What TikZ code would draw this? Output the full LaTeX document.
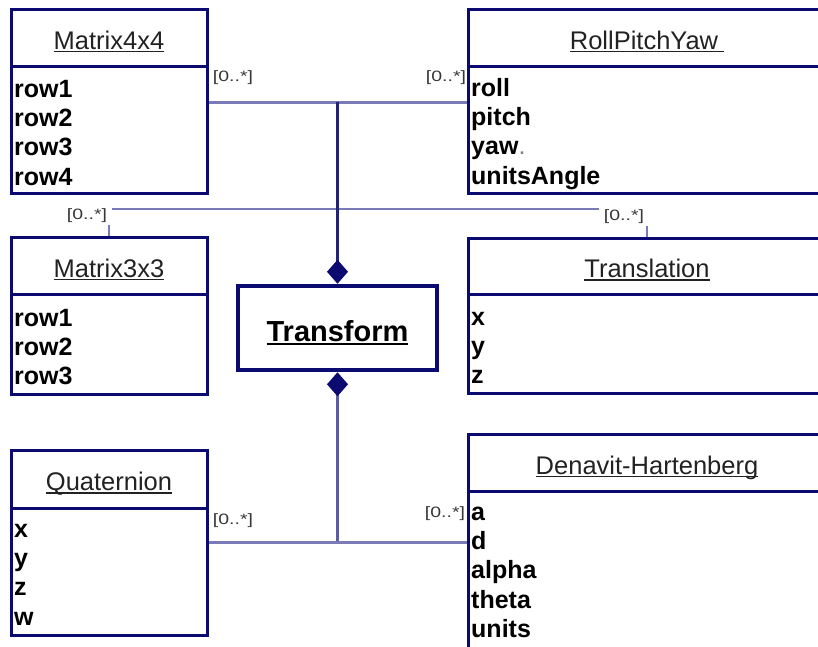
\documentclass[tikz,border=0pt]{standalone}
\usepackage{fontspec}
\setmainfont{Liberation Sans}
\usepackage{graphicx}
\usetikzlibrary{arrows.meta}

\definecolor{umlnavy}{RGB}{10,10,112}
\definecolor{connlight}{RGB}{122,122,182}
\definecolor{connmid}{RGB}{92,92,162}
\definecolor{conndark}{RGB}{36,36,116}
\definecolor{multgray}{RGB}{55,55,55}
\definecolor{namegray}{RGB}{34,34,34}

% underlined class name: text plus a rule a little below the baseline
\newcommand\ulname[2][3pt]{\setbox0=\hbox{#2}\dimen0=\wd0 \rlap{\box0}\rule[-#1]{\dimen0}{1.3pt}}
% multiplicity text
\newcommand\multtext{\scalebox{1.3}[1]{[0..*]}}

% UML class: id, x1, x2, ytop, ysplit, ybottom, title, first attribute baseline, attributes
\newcommand\umlclass[9]{%
  \node[classhead, minimum width={#3-#2}, minimum height={#5-#4}] (#1-h)
    at ({(#2+#3)/2},{(#4+#5)/2}) {\ulname{#7}};
  \node[classbody, minimum width={#3-#2}, minimum height={#6-#5}] (#1-b)
    at ({(#2+#3)/2},{(#5+#6)/2}) {};
  \foreach \attr [count=\k from 0] in {#9}
    \node[attrtext] (#1-a\k) at ({#2+3},{#8+29.4*\k}) {\attr};
}

\begin{document}
\begin{tikzpicture}[x=1pt,y=-1pt,
  classhead/.style={draw=umlnavy, line width=3pt, rectangle, inner sep=0pt,
    text height=23pt, text depth=0pt, text=namegray,
    font=\fontsize{25.5}{28}\selectfont},
  classbody/.style={draw=umlnavy, line width=3pt, rectangle, inner sep=0pt},
  attrtext/.style={anchor=base west, inner sep=0pt, text=black,
    font=\fontsize{25}{29}\selectfont\bfseries},
  mult/.style={inner xsep=5pt, inner ysep=2pt, text=multgray,
    font=\fontsize{15}{17}\selectfont},
  multgap/.style={mult, fill=white},
  assoc/.style={draw=connlight, line width=3pt},
  assocthin/.style={draw=connlight, line width=2.2pt},
  comptop/.style={draw=conndark, line width=3pt,
    -{Diamond[length=24pt,width=21pt,color=umlnavy]}},
  compbottom/.style={draw=connmid, line width=3pt,
    {Diamond[length=24pt,width=21pt,color=umlnavy]}-},
]
\useasboundingbox (0,0) rectangle (818,646);
\clip (0,0) rectangle (818,646);

% classes
\umlclass{m4}{11}{207}{9}{66}{193}{Matrix4x4}{97}{row1,row2,row3,row4}
\umlclass{rpy}{468}{826}{9}{66}{193}{RollPitchYaw\hspace{6pt}}{96}{roll,pitch,{yaw\textmd{\textcolor{gray}{.}}},unitsAngle}
\umlclass{m3}{11}{207}{237}{294}{394}{Matrix3x3}{326}{row1,row2,row3}
\umlclass{tl}{468}{826}{238}{294}{393}{Translation}{325}{x,y,z}
\umlclass{q}{11}{207}{450}{508}{635}{Quaternion}{537}{x,y,z,w}
\umlclass{dh}{468}{826}{434}{491}{720}{Denavit-Hartenberg}{520}{a,d,alpha,theta,units}

% central class
\node[draw=umlnavy, line width=4.5pt, rectangle, minimum width=199pt,
  minimum height=84pt, inner sep=0pt, text height=26pt, text depth=0pt,
  font=\fontsize{29}{32}\selectfont\bfseries] (tr) at (337.5,328)
  {\ulname[3.5pt]{Transform}};

% junctions of the connectors
\coordinate (jt) at (337.5,102);
\coordinate (jm) at (337.5,209);
\coordinate (jb) at (337.5,542);

% connectors
\draw[assoc] (m4-b.east |- jt) -- (rpy-b.west |- jt);
\draw[assocthin] (m3-h.north) |- (jm) -| (tl-h.north);
\draw[comptop] (jt) -- (tr.north);
\draw[compbottom] (tr.south) -- (jb);
\draw[assoc] (q-b.east |- jb) -- (dh-b.west |- jb);

% multiplicities
\node[mult] (mm4) at (233,78) {\multtext};
\node[mult] (mrpy) at (446,78) {\multtext};
\node[multgap] (mm3) at (87,216) {\multtext};
\node[multgap] (mtl) at (624,217) {\multtext};
\node[mult] (mq) at (233,521) {\multtext};
\node[mult] (mdh) at (445,514) {\multtext};
\end{tikzpicture}
\end{document}
